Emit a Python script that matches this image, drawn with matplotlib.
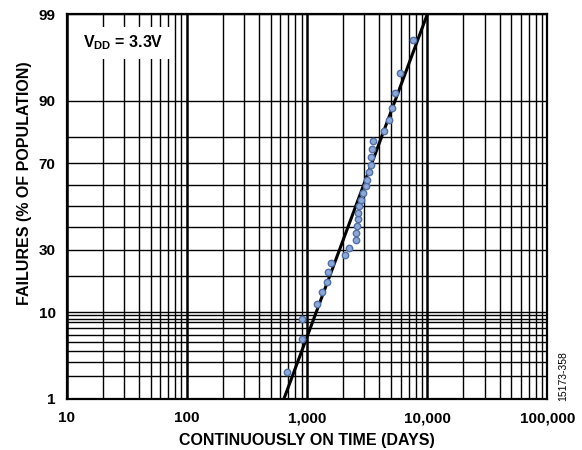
import math
import numpy as np
import matplotlib
matplotlib.use("Agg")
import matplotlib.pyplot as plt
from matplotlib.ticker import FixedLocator, FuncFormatter, LogLocator, NullFormatter

plt.rcParams["font.family"] = ["Liberation Sans", "DejaVu Sans"]
plt.rcParams["mathtext.fontset"] = "custom"
plt.rcParams["mathtext.bf"] = "Liberation Sans:bold"
plt.rcParams["mathtext.rm"] = "Liberation Sans:bold"

# ---------------- data ----------------
days = [685, 914, 914, 1214, 1328, 1456, 1484, 1585, 2085, 2230, 2541,
        2560, 2610, 2640, 2667, 2703, 2818, 2928, 3120, 3162, 3261, 3404,
        3404, 3435, 3548, 4365, 4831, 5108, 5358, 5910, 7656]
failures = [2.25, 5.38, 8.58, 11.8, 14.9, 18.1, 21.3, 24.5, 27.8, 30.9, 34.1,
            37.4, 40.7, 43.9, 47.0, 50.2, 53.3, 56.6, 59.7, 62.7, 66.0, 69.4,
            72.4, 75.6, 78.7, 82.1, 85.2, 88.3, 91.5, 94.7, 97.8]
fit_days = [643, 10000]
fit_pct = [1, 99]

y_major = [1, 10, 30, 70, 90, 99]
y_minor = [2, 3, 4, 5, 6, 7, 8, 8.7, 9.4, 20, 40, 50, 60, 80]
x_labels = {10: "10", 100: "100", 1000: "1,000", 10000: "10,000", 100000: "100,000"}

# ---------------- normal probability scale ----------------
A = [-3.969683028665376e+01, 2.209460984245205e+02, -2.759285104469687e+02,
     1.383577518672690e+02, -3.066479806614716e+01, 2.506628277459239e+00]
B = [-5.447609879822406e+01, 1.615858368580409e+02, -1.556989798598866e+02,
     6.680131188771972e+01, -1.328068155288572e+01]
C = [-7.784894002430293e-03, -3.223964580411365e-01, -2.400758277161838e+00,
     -2.549732539343734e+00, 4.374664141464968e+00, 2.938163982698783e+00]
D = [7.784695709041462e-03, 3.224671290700398e-01, 2.445134137142996e+00,
     3.754408661907416e+00]

def _ppf1(p):
    lo = 0.02425
    if p < lo:
        q = math.sqrt(-2 * math.log(p))
        return (((((C[0]*q+C[1])*q+C[2])*q+C[3])*q+C[4])*q+C[5]) / \
               ((((D[0]*q+D[1])*q+D[2])*q+D[3])*q+1)
    if p > 1 - lo:
        q = math.sqrt(-2 * math.log(1 - p))
        return -(((((C[0]*q+C[1])*q+C[2])*q+C[3])*q+C[4])*q+C[5]) / \
                ((((D[0]*q+D[1])*q+D[2])*q+D[3])*q+1)
    q = p - 0.5; r = q * q
    return (((((A[0]*r+A[1])*r+A[2])*r+A[3])*r+A[4])*r+A[5])*q / \
           (((((B[0]*r+B[1])*r+B[2])*r+B[3])*r+B[4])*r+1)

_ppf = np.vectorize(_ppf1, otypes=[float])
_erf = np.vectorize(math.erf, otypes=[float])

def fwd(pct):
    p = np.clip(np.asarray(pct, dtype=float) / 100.0, 1e-9, 1 - 1e-9)
    return _ppf(p)

def inv(z):
    return 50.0 * (1 + _erf(np.asarray(z, dtype=float) / math.sqrt(2)))

# ---------------- figure ----------------
FS = 11
fig = plt.figure(figsize=(5.82, 4.5), dpi=100)
ax = fig.add_axes([0.1146, 0.1144, 0.8261, 0.8538])
ax.set_xscale("log")
ax.set_yscale("function", functions=(fwd, inv))
ax.set_xlim(10, 100000)
ax.set_ylim(1, 99)

ax.xaxis.set_major_locator(LogLocator(base=10, numticks=10))
ax.xaxis.set_minor_locator(LogLocator(base=10, subs=np.arange(2, 10), numticks=20))
ax.xaxis.set_major_formatter(FuncFormatter(lambda v, _: x_labels.get(int(round(v)), "")))
ax.xaxis.set_minor_formatter(NullFormatter())
ax.yaxis.set_major_locator(FixedLocator(y_major))
ax.yaxis.set_minor_locator(FixedLocator(y_minor))
ax.yaxis.set_major_formatter(FuncFormatter(lambda v, _: f"{v:g}"))
ax.yaxis.set_minor_formatter(NullFormatter())

ax.tick_params(which="both", length=0)
ax.tick_params(axis="x", pad=9, labelsize=FS)
ax.tick_params(axis="y", pad=8, labelsize=FS)
for lab in ax.get_xticklabels() + ax.get_yticklabels():
    lab.set_fontweight("bold")

ax.set_axisbelow(True)
ax.xaxis.grid(True, which="major", color="black", lw=1.8)
ax.xaxis.grid(True, which="minor", color="black", lw=1.0)
ax.yaxis.grid(True, which="both", color="black", lw=1.0)
for s in ax.spines.values():
    s.set_linewidth(1.6)

ax.plot(fit_days, fit_pct, color="black", lw=2.2, zorder=3, solid_capstyle="butt")
ax.plot(days, failures, "o", ms=4.6, mfc="#8ea8d6", mec="#4f70a8", mew=1.0, zorder=4)

ax.text(0.033, 0.926, r"$\mathbf{V_{DD}}$ = 3.3V", transform=ax.transAxes,
        fontsize=11.5, fontweight="bold", va="center", ha="left",
        bbox=dict(facecolor="white", edgecolor="none", pad=5), zorder=5)

ax.set_xlabel("CONTINUOUSLY ON TIME (DAYS)", fontsize=11.5, fontweight="bold", labelpad=6)
ax.set_ylabel("FAILURES (% OF POPULATION)", fontsize=11.5, fontweight="bold")
ax.yaxis.set_label_coords(-0.072, 0.56)

fig.text(0.967, 0.164, "15173-358", rotation=90, fontsize=7.5, ha="center", va="center")

fig.savefig("out.png", dpi=100)
